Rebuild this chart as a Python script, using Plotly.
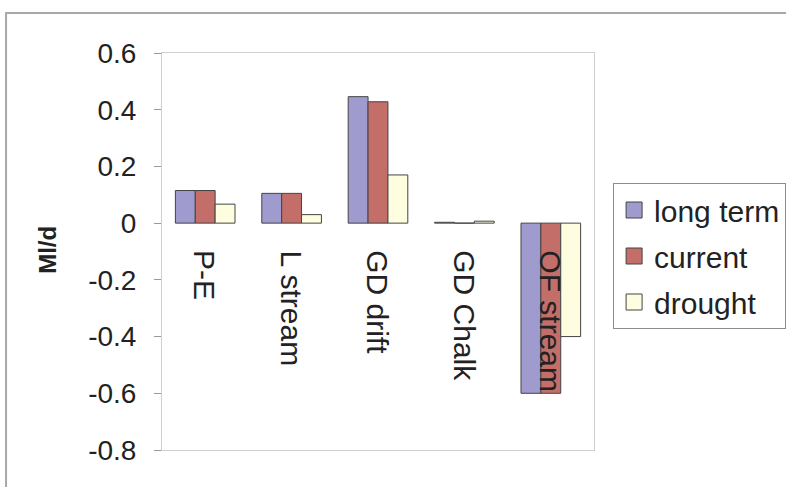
import plotly.graph_objects as go

# Water balance components (Ml/d) under three scenarios
categories = ["P-E", "L stream", "GD drift", "GD Chalk", "OF stream"]
long_term = [0.115, 0.105, 0.446, 0.003, -0.600]
current = [0.115, 0.105, 0.428, 0.000, -0.600]
drought = [0.067, 0.030, 0.170, 0.007, -0.400]

y_ticks = [0.6, 0.4, 0.2, 0, -0.2, -0.4, -0.6, -0.8]

FONT = "Liberation Sans, Arial, sans-serif"
TEXT = "#222222"
EDGE = "#444444"

series = [
    ("long term", long_term, "#A09BCF"),
    ("current", current, "#C36E69"),
    ("drought", drought, "#FFFDE0"),
]

fig = go.Figure()
for name, vals, color in series:
    fig.add_trace(go.Bar(
        x=categories, y=vals, name=name, showlegend=False,
        marker=dict(color=color, line=dict(color=EDGE, width=1)),
    ))

# Legend entries with larger square swatches
for i, (name, vals, color) in enumerate(series):
    fig.add_trace(go.Scatter(
        x=[None], y=[None], mode="markers", name=name,
        legendgroup=f"g{i}",
        marker=dict(symbol="square", size=20, color=color,
                    line=dict(color=EDGE, width=1)),
    ))

# Category labels hang below the zero line, rotated
for cat in categories:
    fig.add_annotation(
        x=cat, y=0, xref="x", yref="y",
        text=cat, textangle=90, showarrow=False,
        xanchor="center", yanchor="top", yshift=-25,
        font=dict(family=FONT, size=30, color=TEXT),
    )

# Axis title
fig.add_annotation(
    x=-0.264, y=0.504, xref="paper", yref="paper",
    xanchor="center", yanchor="middle",
    text="<b>Ml/d</b>", textangle=-90, showarrow=False,
    font=dict(family=FONT, size=24, color=TEXT),
)

# Outer chart frame (top and left edges)
fig.add_shape(type="rect", xref="paper", yref="paper",
              x0=-0.361, x1=1.6, y0=-0.3, y1=1.1008,
              line=dict(color="#A8A8A8", width=2), layer="below")

fig.update_layout(
    width=786, height=487,
    margin=dict(l=162, r=192, t=53, b=37),
    paper_bgcolor="white", plot_bgcolor="white",
    barmode="group", bargap=0.31, bargroupgap=0,
    showlegend=True,
    legend=dict(
        xref="container", yref="container",
        x=0.78, y=1 - 183 / 487, xanchor="left", yanchor="top",
        bordercolor="#8C8C8C", borderwidth=1, bgcolor="white",
        font=dict(family=FONT, size=30, color=TEXT),
        tracegroupgap=4, traceorder="grouped",
        itemwidth=30,
    ),
    xaxis=dict(
        showticklabels=False, ticks="", showgrid=False, zeroline=False,
        showline=True, mirror=True, linecolor="#CFCFCF", linewidth=1,
    ),
    yaxis=dict(
        range=[-0.8, 0.6], tickvals=y_ticks,
        ticktext=[f"{v:g}" for v in y_ticks],
        ticks="outside", ticklen=7, tickcolor="#9A9A9A",
        ticklabelstandoff=12,
        showgrid=False, zeroline=False,
        showline=True, mirror=True, linecolor="#CFCFCF", linewidth=1,
        tickfont=dict(family=FONT, size=28, color=TEXT),
    ),
)

fig.write_html("out.html")
